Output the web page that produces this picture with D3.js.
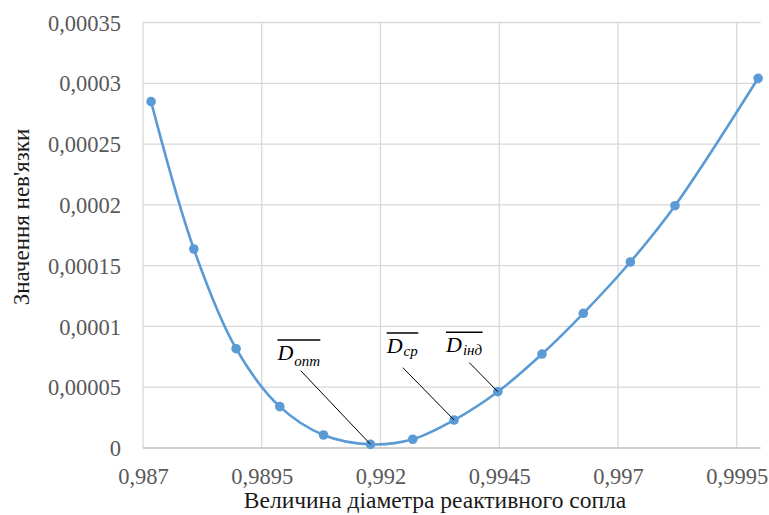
<!DOCTYPE html>
<html><head><meta charset="utf-8"><script src="https://cdn.jsdelivr.net/npm/d3@7"></script></head>
<body style="margin:0">
<svg id="s" width="769" height="515" font-family="Liberation Serif"></svg>
<script>
// ---- data ----
const xValues = [0.98717, 0.98807, 0.98896, 0.98988, 0.99080, 0.99179, 0.99268,
                 0.99355, 0.99447, 0.99540, 0.99627, 0.99726, 0.99820, 0.99995];
const yValues = [0.0002849, 0.0001637, 0.0000817, 0.0000340, 0.0000107, 0.0000030, 0.0000072,
                 0.0000230, 0.0000463, 0.0000773, 0.0001108, 0.0001530, 0.0001993, 0.0003041];
const xTicks = [0.987, 0.9895, 0.992, 0.9945, 0.997, 0.9995];
const xTickLabels = ["0,987", "0,9895", "0,992", "0,9945", "0,997", "0,9995"];
const yTicks = [0, 0.00005, 0.0001, 0.00015, 0.0002, 0.00025, 0.0003, 0.00035];
const yTickLabels = ["0", "0,00005", "0,0001", "0,00015", "0,0002", "0,00025", "0,0003", "0,00035"];
const xTitle = "Величина діаметра реактивного сопла";
const yTitle = "Значення нев'язки";
// annotations: label anchor & leader start in data units, target = point index
const annLabels = ["опт", "ср", "інд"];
const annTarget = [5, 7, 8];
const annTextX = [0.98983, 0.99213, 0.99338];
const annTextY = [0.0000724, 0.0000781, 0.0000787];
const annLeadX = [0.99032, 0.99247, 0.99387];
const annLeadY = [0.0000636, 0.0000661, 0.0000702];
const annSubDy = [6, 3, 3];

// ---- layout ----
const plotL = 143, plotR = 760.5, plotT = 22.5, plotB = 448;
const svg = d3.select("#s");
const x = d3.scaleLinear().domain([0.987, 1.0]).range([plotL, plotR]);
const y = d3.scaleLinear().domain([0, 0.00035]).range([plotB, plotT]);
const fam = '"Liberation Serif"';

svg.append("rect").attr("width", 769).attr("height", 515).attr("fill", "#fff");

// gridlines
const grid = svg.append("g");
grid.selectAll("line.h").data(yTicks.filter(d => d > 0)).join("line")
  .attr("x1", plotL).attr("x2", plotR)
  .attr("y1", d => y(d)).attr("y2", d => y(d))
  .attr("stroke", "#d9d9d9").attr("stroke-width", 1.3);
grid.selectAll("line.v").data(xTicks).join("line")
  .attr("x1", d => x(d)).attr("x2", d => x(d))
  .attr("y1", plotT).attr("y2", plotB)
  .attr("stroke", "#d9d9d9").attr("stroke-width", 1.3);
svg.append("line").attr("x1", plotL).attr("x2", plotR)
  .attr("y1", y(0)).attr("y2", y(0))
  .attr("stroke", "#bfbfbf").attr("stroke-width", 1.5);

// axes (labels only)
const xAxis = d3.axisBottom(x).tickValues(xTicks)
  .tickFormat((d, i) => xTickLabels[i]).tickSize(0).tickPadding(0);
const gx = svg.append("g").attr("transform", `translate(0,${plotB})`).call(xAxis);
gx.attr("font-family", "Liberation Serif").attr("font-size", null);
gx.select(".domain").remove();
gx.selectAll("text").attr("y", 36).attr("dy", 0)
  .style("font-family", fam).style("font-size", "22.5px").attr("fill", "#595959");

const yAxis = d3.axisLeft(y).tickValues(yTicks)
  .tickFormat((d, i) => yTickLabels[i]).tickSize(0).tickPadding(0);
const gy = svg.append("g").attr("transform", `translate(${plotL},0)`).call(yAxis);
gy.attr("font-family", "Liberation Serif").attr("font-size", null);
gy.select(".domain").remove();
gy.selectAll("text").attr("x", -22).attr("dy", "0.34em")
  .style("font-family", fam).style("font-size", "22.5px").attr("fill", "#595959");

// axis titles
svg.append("text").attr("x", 435).attr("y", 508)
  .attr("text-anchor", "middle").style("font-family", fam).style("font-size", "23.5px")
  .attr("fill", "#1a1a1a").text(xTitle);
svg.append("text").attr("transform", "translate(29,217) rotate(-90)")
  .attr("text-anchor", "middle").style("font-family", fam).style("font-size", "23px")
  .attr("fill", "#1a1a1a").text(yTitle);

// series
const pts = xValues.map((v, i) => [v, yValues[i]]);
const line = d3.line().x(d => x(d[0])).y(d => y(d[1])).curve(d3.curveCatmullRom.alpha(0.5));
svg.append("path").datum(pts).attr("d", line)
  .attr("fill", "none").attr("stroke", "#5b9bd5").attr("stroke-width", 2.6);
svg.selectAll("circle.pt").data(pts).join("circle")
  .attr("cx", d => x(d[0])).attr("cy", d => y(d[1])).attr("r", 4.8)
  .attr("fill", "#5b9bd5");

// annotations
annLabels.forEach((lab, i) => {
  const tx = x(annTextX[i]), ty = y(annTextY[i]);
  const t = svg.append("text").attr("x", tx).attr("y", ty)
    .style("font-family", fam).style("font-style", "italic").attr("fill", "#000");
  t.append("tspan").style("font-size", "22px").text("D");
  t.append("tspan").style("font-size", "15px").attr("dy", annSubDy[i]).attr("dx", 1).text(lab);
  const bb = t.node().getBBox();
  svg.append("line").attr("x1", tx).attr("x2", bb.x + bb.width)
    .attr("y1", ty - 20).attr("y2", ty - 20)
    .attr("stroke", "#000").attr("stroke-width", 1.4);
  const p = pts[annTarget[i]];
  svg.append("line")
    .attr("x1", x(annLeadX[i])).attr("y1", y(annLeadY[i]))
    .attr("x2", x(p[0])).attr("y2", y(p[1]))
    .attr("stroke", "#000").attr("stroke-width", 1);
});
</script>
</body>
</html>
